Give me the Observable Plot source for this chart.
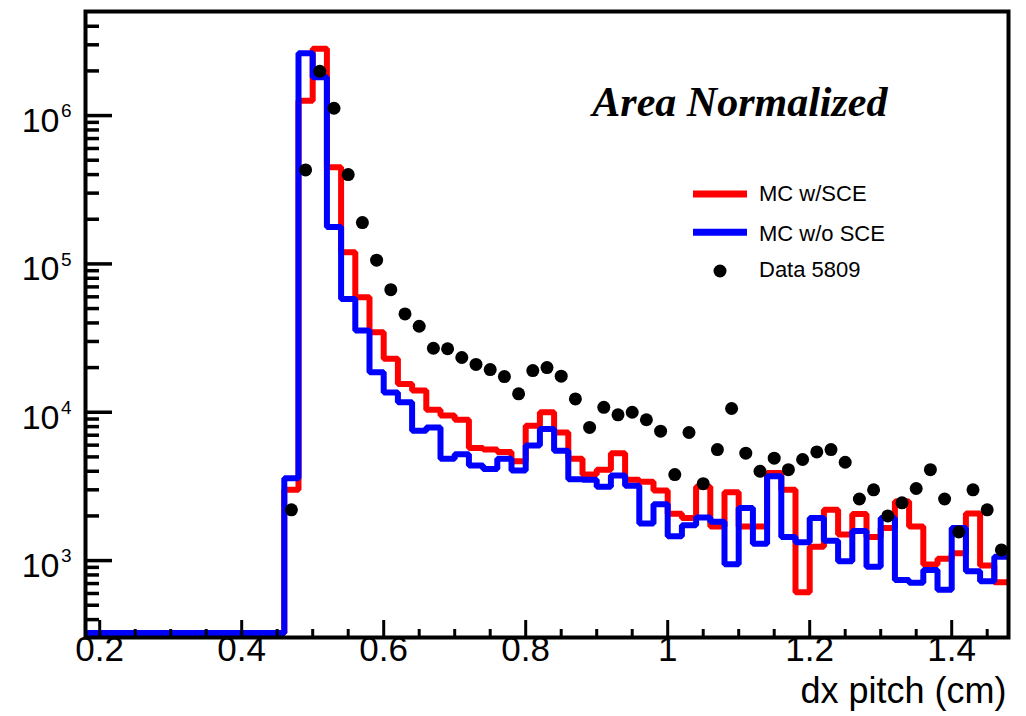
<!DOCTYPE html>
<html><head><meta charset="utf-8">
<script src="https://cdn.jsdelivr.net/npm/d3@7"></script>
<script src="https://cdn.jsdelivr.net/npm/@observablehq/plot@0.6"></script>
<style>
html,body{margin:0;padding:0;background:#fff;}
#chart{position:relative;width:1026px;height:716px;}
svg{font-family:"Liberation Sans",Arial,Helvetica,sans-serif;}
</style></head><body><div id="chart"></div>
<script>
// bin lower edges (bin width 0.02 cm)
const binLow = [0.18,0.20,0.22,0.24,0.26,0.28,0.30,0.32,0.34,0.36,0.38,0.40,0.42,0.44,
  0.46,0.48,0.50,0.52,0.54,0.56,0.58,0.60,0.62,0.64,0.66,0.68,0.70,0.72,0.74,0.76,0.78,
  0.80,0.82,0.84,0.86,0.88,0.90,0.92,0.94,0.96,0.98,1.00,1.02,1.04,1.06,1.08,1.10,1.12,
  1.14,1.16,1.18,1.20,1.22,1.24,1.26,1.28,1.30,1.32,1.34,1.36,1.38,1.40,1.42,1.44,1.46];
const binUpperLast = 1.48;
const binHalf = 0.01;

// MC w/SCE (red)
const mcWithSCE = [0,0,0,0,0,0,0,0,0,0,0,0,0,0,
  3000,1260000,2820000,448000,120000,59600,34600,22900,15500,14000,10400,9500,8900,5750,5600,5400,4670,
  8100,10000,7300,4850,3800,4100,5300,3500,3400,2970,2070,1940,3150,1700,2890,1700,1700,
  3900,3000,611,1240,2200,1500,2060,1440,1660,2500,1700,940,1030,1120,2080,925,714];

// MC w/o SCE (blue)
const mcWithoutSCE = [0,0,0,0,0,0,0,0,0,0,0,0,0,0,
  3590,2630000,1810000,177000,58000,35500,18600,13600,11700,7500,7900,4850,5200,4370,4150,4850,4050,
  5960,7700,5500,3540,3500,3150,3750,3200,1780,2400,1460,1730,1950,1830,945,2260,1300,
  3700,1440,1330,1940,1360,990,1580,910,1940,741,708,865,635,1660,847,725,1060];

// Data 5809 (black points, at bin centres)
const data5809 = [0,0,0,0,0,0,0,0,0,0,0,0,0,0,
  2200,430000,1990000,1120000,400000,190000,106000,67000,46000,38000,27000,26800,23400,21000,19400,17400,13300,
  19100,20000,17500,12300,7900,10800,9600,10000,8900,7450,3800,7300,3300,5600,10600,5300,4000,
  4900,4100,4800,5400,5600,4600,2600,3000,2000,2450,3060,4100,2600,1560,3000,2200,1180];

const xDomain = [0.18, 1.48];
const yDomain = [303, 5.03e6];
const zeroLevel = 325; // where empty bins are drawn on the log axis

const xMajorTicks = [0.2,0.4,0.6,0.8,1.0,1.2,1.4];
const xMajorLabels = ["0.2","0.4","0.6","0.8","1","1.2","1.4"];
const xMinorTicks = [0.25,0.3,0.35,0.45,0.5,0.55,0.65,0.7,0.75,0.85,0.9,0.95,1.05,1.1,1.15,1.25,1.3,1.35,1.45];
const yMajorTicks = [1e3,1e4,1e5,1e6];
const yMajorExp = ["3","4","5","6"];
const yMinorTicks = [400,500,600,700,800,900,
  2000,3000,4000,5000,6000,7000,8000,9000,
  20000,30000,40000,50000,60000,70000,80000,90000,
  200000,300000,400000,500000,600000,700000,800000,900000,
  2000000,3000000,4000000];

const legendLabels = ["MC w/SCE","MC w/o SCE","Data 5809"];
const titleText = "Area Normalized";
const xTitle = "dx pitch (cm)";

// build step tables
function steps(vals){
  const t = binLow.map((x,i)=>({x, v: Math.max(vals[i], zeroLevel)}));
  t.push({x: binUpperLast, v: Math.max(vals[vals.length-1], zeroLevel)});
  return t;
}
const redSteps = steps(mcWithSCE);
const blueSteps = steps(mcWithoutSCE);
const points = binLow.map((x,i)=>({x: x+binHalf, v: data5809[i]})).filter(d=>d.v>0);

const W = 1026, H = 716;
const mL = 85, mR = 18, mT = 11, mB = 79;
const pW = W - mL - mR, pH = H - mT - mB;

const chart = Plot.plot({
  width: W, height: H,
  marginLeft: mL, marginRight: mR, marginTop: mT, marginBottom: mB,
  style: {fontFamily: '"Liberation Sans",Arial,Helvetica,sans-serif', background: "white", overflow: "visible"},
  x: {domain: xDomain, axis: null},
  y: {type: "log", domain: yDomain, axis: null},
  marks: [
    Plot.line(redSteps, {x: "x", y: "v", curve: "step-after", stroke: "#ff0000", strokeWidth: 6, strokeLinejoin: "miter", clip: "frame"}),
    Plot.line(blueSteps, {x: "x", y: "v", curve: "step-after", stroke: "#0000ff", strokeWidth: 6, strokeLinejoin: "miter", clip: "frame"}),
    Plot.dot(points, {x: "x", y: "v", r: 6.5, fill: "black", stroke: null}),
    Plot.tickY(yMajorTicks, {y: d=>d, insetRight: pW - 27, stroke: "black", strokeWidth: 3.5}),
    Plot.tickY(yMinorTicks, {y: d=>d, insetRight: pW - 14, stroke: "black", strokeWidth: 3.5}),
    Plot.tickX(xMajorTicks, {x: d=>d, insetTop: pH - 17, stroke: "black", strokeWidth: 3}),
    Plot.tickX(xMinorTicks, {x: d=>d, insetTop: pH - 8, stroke: "black", strokeWidth: 3}),
    Plot.frame({stroke: "black", strokeWidth: 4}),
    Plot.text(yMajorTicks, {y: d=>d, frameAnchor: "left", text: ()=>"10", textAnchor: "end", dx: -26, dy: 5.5, fontSize: 34, fill: "black"}),
    Plot.text(yMajorTicks, {y: d=>d, frameAnchor: "left", text: (d,i)=>yMajorExp[i], textAnchor: "start", dx: -24.5, dy: -4.3, fontSize: 19, fill: "black"}),
    Plot.text(xMajorTicks, {x: d=>d, frameAnchor: "bottom", text: (d,i)=>xMajorLabels[i], dy: 23, fontSize: 35, fill: "black"}),
    Plot.text([xTitle], {frameAnchor: "bottom-right", text: d=>d, textAnchor: "end", lineAnchor: "bottom", dx: -2, dy: 65, fontSize: 36, fill: "black"}),
    Plot.text([titleText], {frameAnchor: "top-right", text: d=>d, textAnchor: "end", lineAnchor: "bottom", dx: -121, dy: 104.7,
      fontFamily: '"Liberation Serif","Times New Roman",serif', fontWeight: "bold", fontStyle: "italic", fontSize: 42, fill: "black"})
  ]
});
document.getElementById("chart").appendChild(chart);

// legend
const svg = d3.select(chart);
const lg = svg.append("g").attr("font-size", 22).attr("fill", "black").attr("text-anchor", "start");
const rows = [
  {label: legendLabels[0], kind: "line", color: "#ff0000", y: 194, ty: 201},
  {label: legendLabels[1], kind: "line", color: "#0000ff", y: 232.3, ty: 241},
  {label: legendLabels[2], kind: "dot", color: "black", y: 271, ty: 277}
];
rows.forEach(r => {
  if (r.kind === "line") {
    lg.append("line").attr("x1", 693).attr("x2", 747).attr("y1", r.y).attr("y2", r.y)
      .attr("stroke", r.color).attr("stroke-width", 7);
  } else {
    lg.append("circle").attr("cx", 720).attr("cy", r.y).attr("r", 6.5).attr("fill", r.color);
  }
  lg.append("text").attr("x", 759).attr("y", r.ty).attr("text-anchor", "start").text(r.label);
});
</script></body></html>
